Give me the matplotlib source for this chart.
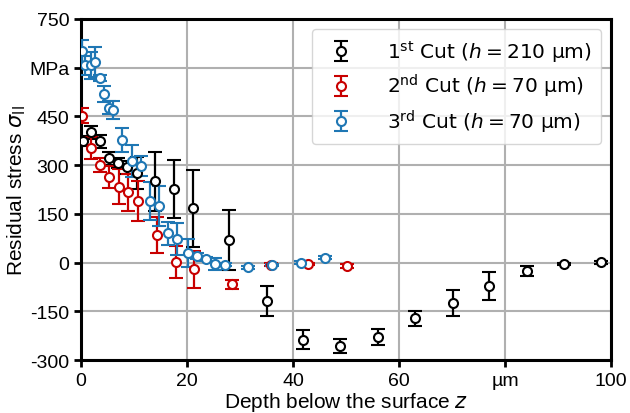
import matplotlib
matplotlib.use("Agg")
import matplotlib.pyplot as plt

# 1st cut (h = 210 um)
z1 = [0.4, 1.9, 3.5, 5.3, 7.0, 8.7, 10.5, 14.0, 17.5, 21.1, 28.0, 35.0, 41.9, 48.9, 56.0, 63.1, 70.1, 77.0, 84.1, 91.1, 98.1]
s1 = [375, 401, 373, 321, 306, 293, 276, 250, 226, 167, 70, -118, -237, -257, -229, -172, -124, -73, -26, -5, 1]
e1 = [15, 20, 20, 20, 15, 20, 50, 90, 89, 118, 92, 47, 29, 21, 24, 22, 39, 43, 14, 4, 5]

# 2nd cut (h = 70 um)
z2 = [0.2, 1.8, 3.6, 5.3, 7.2, 8.9, 10.8, 14.3, 17.9, 21.4, 28.5, 35.8, 42.8, 50.1]
s2 = [452, 353, 301, 263, 234, 216, 190, 85, 2, -20, -67, -7, -4, -10]
e2 = [23, 33, 22, 34, 55, 56, 61, 54, 49, 57, 13, 5, 4, 7]

# 3rd cut (h = 70 um)
z3 = [0.2, 0.8, 1.8, 2.7, 3.5, 4.4, 5.2, 6.1, 7.8, 9.6, 11.4, 13.1, 14.8, 16.5, 18.2, 20.1, 21.8, 23.5, 25.3, 27.1, 31.5, 36.0, 41.5, 46.0]
s3 = [650, 607, 607, 617, 568, 518, 477, 470, 378, 313, 298, 189, 175, 90, 73, 29, 21, 11, -4, -6, -15, -8, 0, 15]
e3 = [36, 30, 42, 47, 10, 25, 20, 27, 36, 49, 30, 59, 62, 35, 50, 43, 10, 6, 18, 5, 5, 4, 4, 5]

xticks = [0, 20, 40, 60, 80, 100]
xticklabels = ["0", "20", "40", "60", "µm", "100"]
yticks = [-300, -150, 0, 150, 300, 450, 600, 750]
yticklabels = ["-300", "-150", "0", "150", "300", "450", "MPa", "750"]

fig = plt.figure(figsize=(6.3, 4.14), dpi=100)
ax = fig.add_axes([0.1286, 0.128, 0.8412, 0.8237])

common = dict(fmt="o", mfc="white", ms=6.5, mew=1.5, elinewidth=1.6, capsize=5, capthick=1.6, zorder=3)
ax.errorbar(z1, s1, yerr=e1, color="black", label=r"1$^{\rm st}$ Cut ($h = 210$ µm)", **common)
ax.errorbar(z2, s2, yerr=e2, color="#c80000", label=r"2$^{\rm nd}$ Cut ($h = 70$ µm)", **common)
ax.errorbar(z3, s3, yerr=e3, color="#1f77b4", label=r"3$^{\rm rd}$ Cut ($h = 70$ µm)", **common)

ax.set_xlim(0, 100)
ax.set_ylim(-300, 750)
ax.set_xticks(xticks)
ax.set_xticklabels(xticklabels)
ax.set_yticks(yticks)
ax.set_yticklabels(yticklabels)
ax.grid(True, color="#b0b0b0", lw=1.5, zorder=0)
ax.set_axisbelow(True)
for sp in ax.spines.values():
    sp.set_linewidth(2.2)
ax.tick_params(width=2, length=5, labelsize=14, direction="out")
for lab in ax.get_xticklabels() + ax.get_yticklabels():
    lab.set_family("Liberation Sans")

ax.set_xlabel("Depth below the surface $z$", fontsize=15, family="Liberation Sans", labelpad=1)
ax.set_ylabel(r"Residual stress $\sigma_{\rm II}$", fontsize=15, family="Liberation Sans", labelpad=1)

leg = ax.legend(loc="upper right", fontsize=14.5, framealpha=0.8, handletextpad=1.3,
                borderpad=0.45, labelspacing=0.4, borderaxespad=0.5)

fig.savefig("out.png", dpi=100)
